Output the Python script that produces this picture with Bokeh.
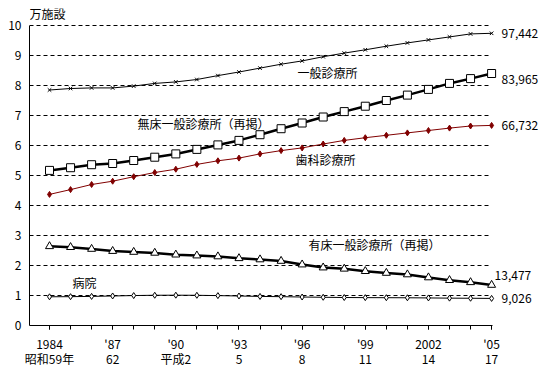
from bokeh.plotting import figure
from bokeh.models import FixedTicker, Label, Range1d
from bokeh.embed import file_html
from bokeh.resources import INLINE
from bokeh.core.properties import value

years = list(range(1984, 2006))
general = [7.85, 7.90, 7.92, 7.92, 7.98, 8.07, 8.12, 8.20, 8.33, 8.45, 8.58, 8.71,
           8.82, 8.96, 9.08, 9.19, 9.31, 9.42, 9.52, 9.62, 9.72, 9.74]
nobed = [5.17, 5.26, 5.36, 5.40, 5.50, 5.61, 5.72, 5.87, 6.02, 6.17, 6.36, 6.56,
         6.75, 6.95, 7.13, 7.31, 7.50, 7.68, 7.87, 8.07, 8.23, 8.40]
dental = [4.37, 4.53, 4.70, 4.81, 4.96, 5.10, 5.21, 5.37, 5.49, 5.58, 5.72, 5.83,
          5.92, 6.05, 6.17, 6.26, 6.34, 6.42, 6.50, 6.58, 6.65, 6.67]
withbed = [2.64, 2.61, 2.55, 2.48, 2.45, 2.42, 2.36, 2.33, 2.30, 2.24, 2.20, 2.15,
           2.03, 1.93, 1.89, 1.81, 1.75, 1.70, 1.60, 1.51, 1.44, 1.35]
hospital = [0.957, 0.961, 0.970, 0.984, 0.998, 1.008, 1.010, 1.007, 0.996, 0.984, 0.969,
            0.961, 0.949, 0.941, 0.933, 0.929, 0.927, 0.924, 0.919, 0.912, 0.908, 0.903]
end_labels = ["97,442", "83,965", "66,732", "13,477", "9,026"]
tick_years = [1984, 1987, 1990, 1993, 1996, 1999, 2002, 2005]
tick_labels = ["1984\n昭和59年", "'87\n62", "'90\n平成2", "'93\n5", "'96\n8",
               "'99\n11", "2002\n14", "'05\n17"]
series_names = ["一般診療所", "無床一般診療所（再掲）", "歯科診療所",
                "有床一般診療所（再掲）", "病院"]
unit_label = "万施設"

FONT = "Noto Sans CJK JP"
FS = "12px"

X0, X1 = 1983.05, 2005.05
p = figure(frame_width=516, frame_height=317, output_backend="svg", toolbar_location=None,
           x_range=Range1d(X0, 2007.56), y_range=Range1d(0, 10.567),
           min_border_left=29, min_border_right=4, min_border_top=8,
           min_border_bottom=44)
p.outline_line_color = None
p.background_fill_color = "white"
p.border_fill_color = "white"

p.xgrid.visible = False
p.ygrid.ticker = FixedTicker(ticks=list(range(1, 11)))
p.ygrid.grid_line_color = "black"
p.ygrid.grid_line_dash = "4 3"
p.ygrid.grid_line_width = 1
if hasattr(p.ygrid[0], "cross_bounds"):
    p.ygrid.cross_bounds = (X0, 2004.85)

p.yaxis.ticker = FixedTicker(ticks=list(range(0, 11)))
p.yaxis.bounds = (0, 10)
p.yaxis.major_tick_out = 0
p.yaxis.major_tick_in = 0
p.yaxis.minor_tick_out = 0
p.yaxis.minor_tick_in = 0
p.yaxis.major_label_standoff = 8

p.xaxis.ticker = FixedTicker(ticks=tick_years, minor_ticks=years)
p.xaxis.bounds = (X0, X1)
p.xaxis.major_label_overrides = dict(zip(tick_years, tick_labels))
p.xaxis.major_tick_out = 4
p.xaxis.major_tick_in = 0
p.xaxis.minor_tick_out = 4
p.xaxis.minor_tick_in = 0
p.xaxis.minor_tick_line_color = "black"
p.xaxis.major_label_standoff = 5
p.xaxis.major_label_text_line_height = 0.9

for ax in (p.xaxis, p.yaxis):
    ax.major_label_text_font = FONT
    ax.major_label_text_font_size = FS
    ax.major_label_text_color = "black"
    ax.axis_line_color = "black"
    ax.major_tick_line_color = "black"

# series
p.line(years, general, line_color="black", line_width=1)
p.scatter(years, general, marker="x", size=5, line_color="black")

p.line(years, nobed, line_color="black", line_width=2.5)
p.scatter(years, nobed, marker="square", size=8, fill_color="white",
          line_color="black", line_width=1)

p.line(years, dental, line_color="#800000", line_width=1)
p.scatter(years, dental, marker="diamond", size=6, fill_color="#800000",
          line_color="#800000")

p.line(years, withbed, line_color="black", line_width=2.5)
p.scatter(years, withbed, marker="triangle", size=8, fill_color="white",
          line_color="black", line_width=1)

p.line(years, hospital, line_color="black", line_width=1)
p.scatter(years, hospital, marker="diamond", size=6, fill_color="white",
          line_color="black", line_width=1)

# end value labels
last_vals = [general[-1], nobed[-1], dental[-1], withbed[-1], hospital[-1]]
end_dx = [10, 10, 10, 3, 10]
end_dy = [0, -6, 0, 10, 0]
for lab, v, dx, dy in zip(end_labels, last_vals, end_dx, end_dy):
    p.add_layout(Label(x=years[-1], y=v, text=lab, x_offset=dx, y_offset=dy,
                       text_font=FONT, text_font_size=FS, text_color="black",
                       text_baseline="middle", text_align="left"))

# series name labels
name_pos = [(1995.78, 8.43), (1988.18, 6.73), (1995.69, 5.53), (1996.30, 2.70), (1985.09, 1.43)]
for name, (nx, ny) in zip(series_names, name_pos):
    p.add_layout(Label(x=nx, y=ny, text=name, text_font=FONT, text_font_size=FS,
                       text_color="black", text_baseline="middle", text_align="left"))

p.add_layout(Label(x=X0, y=10, y_offset=4, text=unit_label, text_font=FONT,
                   text_font_size=FS, text_color="black", text_baseline="bottom",
                   text_align="left"))

open("out.html", "w").write(file_html(p, INLINE))
